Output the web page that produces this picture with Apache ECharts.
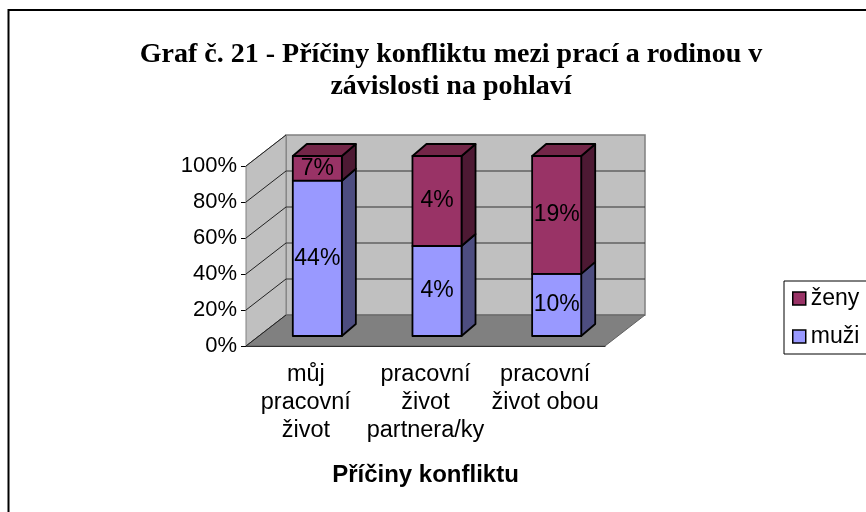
<!DOCTYPE html>
<html>
<head>
<meta charset="utf-8">
<script src="https://cdn.jsdelivr.net/npm/echarts@6/dist/echarts.min.js"></script>
<style>
  html, body { margin: 0; padding: 0; background: #fff; }
  #chart { width: 866px; height: 512px; }
</style>
</head>
<body>
<div id="chart"></div>
<script>
// data
const categories = ["můj\npracovní\nživot", "pracovní\nživot\npartnera/ky", "pracovní\nživot obou"];
const muzi = [44, 4, 10];
const zeny = [7, 4, 19];
const yTicks = [0, 20, 40, 60, 80, 100];

// 3d look
const DX = 40, DY = -31;        // depth of the box
const BX = 11.5, BY = -10;      // bar front offset
const BDX = 14, BDY = -12;      // bar depth

// 100% stacking
const totals = categories.map((c, i) => muzi[i] + zeny[i]);
const muziData = muzi.map((v, i) => [i, 0, v / totals[i] * 100, v]);
const zenyData = zeny.map((v, i) => [i, muzi[i] / totals[i] * 100, 100, v]);

function renderWalls(params, api) {
  const cs = params.coordSys;
  const xl = cs.x, xr = cs.x + cs.width;
  const y0 = api.coord([0, 0])[1], y1 = api.coord([0, 100])[1];
  const children = [
    { type: "polygon", shape: { points: [[xl + DX, y1 + DY], [xr + DX, y1 + DY], [xr + DX, y0 + DY], [xl + DX, y0 + DY]] },
      style: { fill: "#c0c0c0", stroke: "#808080", lineWidth: 1.5 } },
    { type: "polygon", shape: { points: [[xl, y0], [xl, y1], [xl + DX, y1 + DY], [xl + DX, y0 + DY]] },
      style: { fill: "#c0c0c0", stroke: "#808080", lineWidth: 1 } },
    { type: "polygon", shape: { points: [[xl, y0], [xr, y0], [xr + DX, y0 + DY], [xl + DX, y0 + DY]] },
      style: { fill: "#808080", stroke: "#606060", lineWidth: 1 } }
  ];
  yTicks.forEach(t => {
    const y = api.coord([0, t])[1];
    if (t > 0 && t < 100) {
      children.push({ type: "line", shape: { x1: xl + DX, y1: y + DY, x2: xr + DX, y2: y + DY },
        style: { stroke: "#333", lineWidth: 1 } });
    }
    children.push({ type: "line", shape: { x1: xl, y1: y, x2: xl + DX, y2: y + DY },
      style: { stroke: "#222", lineWidth: 1 } });
  });
  return { type: "group", children };
}

function barRenderer(front, side, top, withTop) {
  return function (params, api) {
    const c = api.value(0);
    const p0 = api.coord([c, api.value(1)]);
    const p1 = api.coord([c, api.value(2)]);
    const w = api.size([1, 0])[0] * 0.41;
    const x0 = p0[0] - w / 2 + BX, x1 = x0 + w;
    const yb = p0[1] + BY, yt = p1[1] + BY;
    const st = { stroke: "#000", lineWidth: 1.8, lineJoin: "round" };
    const children = [
      { type: "polygon", shape: { points: [[x1, yb], [x1, yt], [x1 + BDX, yt + BDY], [x1 + BDX, yb + BDY]] },
        style: Object.assign({ fill: side }, st) },
      { type: "rect", shape: { x: x0, y: yt, width: w, height: yb - yt },
        style: Object.assign({ fill: front }, st) },
      { type: "text", x: (x0 + x1) / 2, y: (yt + yb) / 2,
        style: { text: api.value(3) + "%", fill: "#000", font: "23px 'Liberation Sans', Arial, sans-serif",
          align: "center", verticalAlign: "middle" } }
    ];
    if (withTop) {
      children.push({ type: "polygon", shape: { points: [[x0, yt], [x1, yt], [x1 + BDX, yt + BDY], [x0 + BDX, yt + BDY]] },
        style: Object.assign({ fill: top }, st) });
    }
    return { type: "group", children };
  };
}

const chart = echarts.init(document.getElementById("chart"));
chart.setOption({
  animation: false,
  backgroundColor: "#fff",
  title: {
    text: "Graf č. 21 - Příčiny konfliktu mezi prací a rodinou v\nzávislosti na pohlaví",
    left: 446, top: 34, textAlign: "center",
    textStyle: { fontFamily: "'Liberation Serif', 'Times New Roman', serif", fontWeight: "bold", fontSize: 28, lineHeight: 32, color: "#000" }
  },
  graphic: [{
    type: "rect", shape: { x: 8.5, y: 10, width: 1000, height: 1000 },
    style: { fill: null, stroke: "#000", lineWidth: 2 }, silent: true
  }],
  legend: {
    orient: "vertical", left: 784, top: 281,
    padding: [6, 20, 6, 8],
    itemWidth: 13, itemHeight: 13, itemGap: 15,
    borderColor: "#000", borderWidth: 1,
    textStyle: { fontFamily: "'Liberation Sans', Arial, sans-serif", fontSize: 23, color: "#000" },
    data: [
      { name: "ženy", icon: "rect", itemStyle: { color: "#993366", borderColor: "#000", borderWidth: 1.5 } },
      { name: "muži", icon: "rect", itemStyle: { color: "#9999ff", borderColor: "#000", borderWidth: 1.5 } }
    ]
  },
  grid: { left: 246, top: 166, width: 359, height: 180 },
  xAxis: {
    type: "category", data: categories,
    name: "Příčiny konfliktu", nameLocation: "middle", nameGap: 117,
    nameTextStyle: { fontFamily: "'Liberation Sans', Arial, sans-serif", fontWeight: "bold", fontSize: 24, color: "#000" },
    axisLine: { lineStyle: { color: "#000", width: 1 } },
    axisTick: { length: 6, lineStyle: { color: "#000" } },
    axisLabel: { margin: 15, fontFamily: "'Liberation Sans', Arial, sans-serif", fontSize: 23.5, lineHeight: 28, color: "#000", interval: 0 }
  },
  yAxis: {
    type: "value", min: 0, max: 100, interval: 20,
    axisLine: { show: true, lineStyle: { color: "#404040", width: 1 } },
    axisTick: { show: true, length: 5, lineStyle: { color: "#000" } },
    splitLine: { show: false },
    axisLabel: { margin: 9, formatter: "{value}%", fontFamily: "'Liberation Sans', Arial, sans-serif", fontSize: 22, color: "#000" }
  },
  series: [
    { type: "custom", name: "walls", z: 1, silent: true, data: [[0, 0]], encode: { x: 0, y: 1 }, renderItem: renderWalls },
    { type: "custom", name: "muži", z: 2, itemStyle: { color: "#9999ff" }, data: muziData, encode: { x: 0, y: [1, 2] },
      renderItem: barRenderer("#9999ff", "#4d4d80", "#7a7acc", false) },
    { type: "custom", name: "ženy", z: 3, itemStyle: { color: "#993366" }, data: zenyData, encode: { x: 0, y: [1, 2] },
      renderItem: barRenderer("#993366", "#4d1933", "#732648", true) }
  ]
});
</script>
</body>
</html>
